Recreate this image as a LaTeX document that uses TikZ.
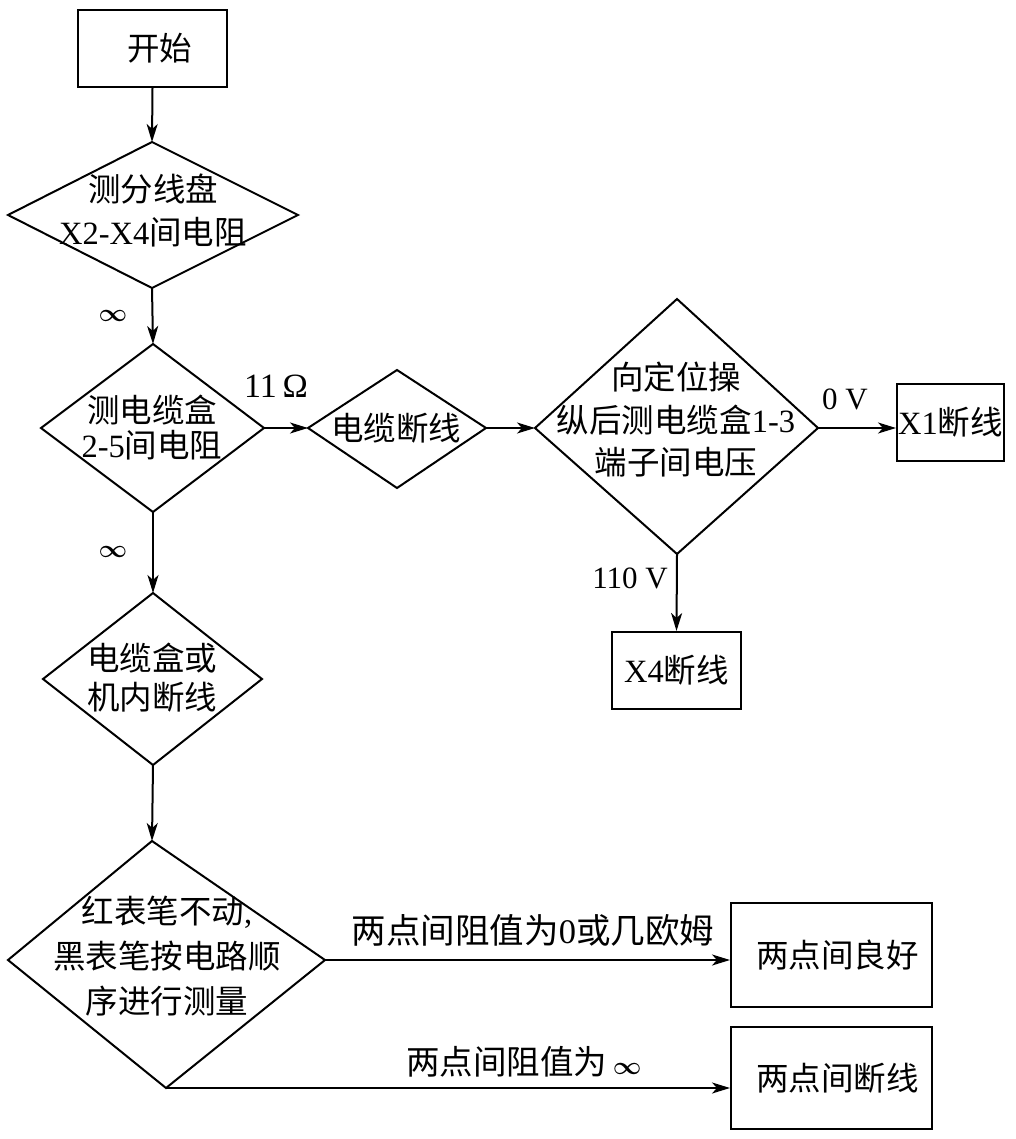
\documentclass[tikz,border=0pt]{standalone}
\usepackage{fontspec}
\setmainfont{Noto Sans CJK SC}
\newfontfamily\lat{Liberation Serif}
\usetikzlibrary{arrows.meta}
\newcommand{\infsym}{{\fontsize{24}{24}\selectfont\boldmath$\infty$}}
\begin{document}
\begin{tikzpicture}[x=1pt,y=-1pt,line width=2pt,
  every node/.style={font=\fontsize{32.5}{42}\selectfont, inner sep=0pt},
  box/.style={draw, line width=2pt},
  dtext/.style={align=center},
  lbl/.style={font=\lat\fontsize{31}{31}\selectfont},
  arr/.style={-{Stealth[length=18pt,width=11pt,inset=5pt]}}]
\useasboundingbox (0,0) rectangle (1015,1139);
% boxes
\node[box, minimum width=149pt, minimum height=77pt] (start) at (152.5,48.5) {\hspace{14pt}开始};
\node[box, minimum width=107pt, minimum height=77pt] (x1) at (950.5,422.5) {{\lat X1}断线};
\node[box, minimum width=129pt, minimum height=77pt] (x4) at (676.5,670.5) {{\lat X4}断线};
\node[box, minimum width=201pt, minimum height=104pt] (good) at (831.5,955) {\hspace{12pt}两点间良好};
\node[box, minimum width=201pt, minimum height=102pt] (bad) at (831.5,1078) {\hspace{12pt}两点间断线};
% diamond 1
\coordinate (d1t) at (152,142); \coordinate (d1l) at (8,215);
\coordinate (d1r) at (298,215); \coordinate (d1b) at (152,288);
\draw (d1t) -- (d1r) -- (d1b) -- (d1l) -- cycle;
\node[dtext, font=\fontsize{32.5}{43}\selectfont] (d1) at (153,210) {测分线盘\\{\lat X2-X4}间电阻};
% diamond 2
\coordinate (d2t) at (153,344); \coordinate (d2l) at (41,428);
\coordinate (d2r) at (264,428); \coordinate (d2b) at (153,512);
\draw (d2t) -- (d2r) -- (d2b) -- (d2l) -- cycle;
\node[dtext, font=\fontsize{32.5}{35}\selectfont] (d2) at (152,428) {测电缆盒\\{\lat 2-5}间电阻};
% diamond 3
\coordinate (d3t) at (397,370); \coordinate (d3l) at (308,428);
\coordinate (d3r) at (486,428); \coordinate (d3b) at (397,488);
\draw (d3t) -- (d3r) -- (d3b) -- (d3l) -- cycle;
\node[dtext] (d3) at (396,428) {电缆断线};
% diamond 4
\coordinate (d4t) at (677,299); \coordinate (d4l) at (535,428);
\coordinate (d4r) at (818,428); \coordinate (d4b) at (677,554);
\draw (d4t) -- (d4r) -- (d4b) -- (d4l) -- cycle;
\node[dtext, font=\fontsize{32.5}{42.5}\selectfont] (d4) at (676,420) {向定位操\\纵后测电缆盒{\lat 1-3}\\端子间电压};
% diamond 5
\coordinate (d5t) at (153,593); \coordinate (d5l) at (43,679);
\coordinate (d5r) at (262,679); \coordinate (d5b) at (153,765);
\draw (d5t) -- (d5r) -- (d5b) -- (d5l) -- cycle;
\node[dtext, font=\fontsize{32.5}{39}\selectfont] (d5) at (152,678) {电缆盒或\\机内断线};
% diamond 6
\coordinate (d6t) at (152,841); \coordinate (d6l) at (8,960);
\coordinate (d6r) at (325,960); \coordinate (d6b) at (166,1088);
\draw (d6t) -- (d6r) -- (d6b) -- (d6l) -- cycle;
\node[dtext, font=\fontsize{32.5}{45}\selectfont] (d6) at (167,956) {红表笔不动{\lat ,}\\黑表笔按电路顺\\序进行测量};
% connectors
\draw[arr] (start.south) -- (d1t);
\draw[arr] (d1b) -- (d2t);
\draw[arr] (d2r) -- (d3l);
\draw[arr] (d3r) -- (d4l);
\draw[arr] (d4r) -- (d4r -| x1.west);
\draw[arr] (d4b) -- (x4.north);
\draw[arr] (d2b) -- (d5t);
\draw[arr] (d5b) -- (d6t);
\draw[arr] (d6r) -- (d6r -| good.west);
\draw[arr] (d6b) -- (d6b -| bad.west);
% labels
\node (inf1) at (113,316) {\infsym};
\node (inf2) at (113,552) {\infsym};
\node[lbl, font=\lat\fontsize{34}{34}\selectfont] (ohm) at (276,386) {11\,Ω};
\node[lbl] (zv) at (845,399) {0 V};
\node[lbl] (v110) at (630,578) {110 V};
\node[font=\fontsize{34.5}{40}\selectfont] (lgood) at (533,930) {两点间阻值为{\lat 0}或几欧姆};
\node[font=\fontsize{33.5}{40}\selectfont] (lbad) at (524,1062) {两点间阻值为\,\infsym};
\end{tikzpicture}
\end{document}
